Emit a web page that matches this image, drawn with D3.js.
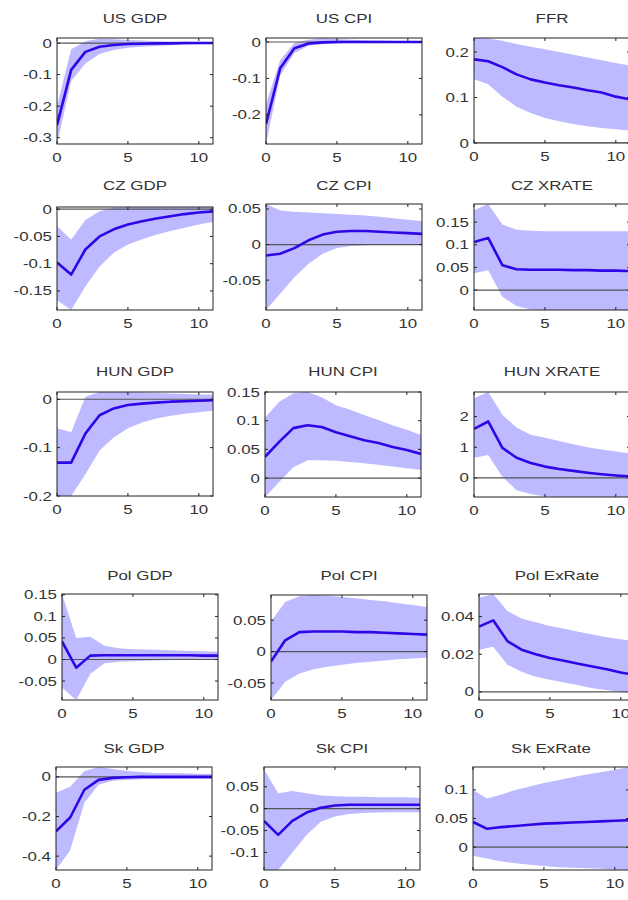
<!DOCTYPE html>
<html><head><meta charset="utf-8">
<script src="https://cdn.jsdelivr.net/npm/d3@7"></script>
<style>body{margin:0;background:#fff}</style>
</head><body>
<script>
// ---------- DATA ----------
const horizon = [0,1,2,3,4,5,6,7,8,9,10,11];
const titles = ["US GDP","US CPI","FFR","CZ GDP","CZ CPI","CZ XRATE","HUN GDP","HUN CPI","HUN XRATE","Pol GDP","Pol CPI","Pol ExRate","Sk GDP","Sk CPI","Sk ExRate"];
const xTicks = [0,5,10];

const usGdpMid = [-0.26,-0.085,-0.028,-0.012,-0.006,-0.003,-0.002,-0.001,-0.001,0,0,0];
const usGdpHi  = [-0.2,-0.02,0.006,0.014,0.012,0.01,0.008,0.006,0.005,0.004,0.003,0.002];
const usGdpLo  = [-0.32,-0.12,-0.065,-0.035,-0.022,-0.015,-0.012,-0.009,-0.007,-0.005,-0.004,-0.003];

const usCpiMid = [-0.225,-0.072,-0.017,-0.004,-0.001,0,0,0,0,0,0,0];
const usCpiHi  = [-0.17,-0.05,-0.003,0.006,0.01,0.008,0.006,0.005,0.004,0.003,0.003,0.002];
const usCpiLo  = [-0.28,-0.092,-0.03,-0.01,-0.006,-0.004,-0.003,-0.002,-0.002,-0.001,-0.001,-0.001];

const ffrMid = [0.184,0.18,0.167,0.151,0.14,0.133,0.127,0.122,0.116,0.111,0.102,0.096];
const ffrHi  = [0.232,0.23,0.225,0.218,0.212,0.206,0.2,0.194,0.188,0.182,0.176,0.17];
const ffrLo  = [0.14,0.129,0.102,0.08,0.066,0.055,0.048,0.042,0.037,0.033,0.03,0.027];

const czGdpMid = [-0.098,-0.12,-0.074,-0.05,-0.037,-0.028,-0.022,-0.017,-0.013,-0.009,-0.006,-0.004];
const czGdpHi  = [-0.031,-0.056,-0.02,-0.004,0.003,0.004,0.004,0.004,0.004,0.004,0.004,0.004];
const czGdpLo  = [-0.167,-0.185,-0.142,-0.105,-0.08,-0.065,-0.055,-0.047,-0.04,-0.034,-0.028,-0.023];

const czCpiMid = [-0.0155,-0.013,-0.005,0.006,0.014,0.018,0.019,0.019,0.018,0.017,0.016,0.015];
const czCpiHi  = [0.057,0.048,0.046,0.045,0.044,0.043,0.042,0.041,0.039,0.037,0.035,0.033];
const czCpiLo  = [-0.092,-0.069,-0.046,-0.027,-0.013,-0.005,-0.002,-0.001,0,0,0,0];

const czXrMid = [0.106,0.115,0.055,0.046,0.045,0.045,0.045,0.044,0.044,0.043,0.043,0.042];
const czXrHi  = [0.176,0.19,0.145,0.133,0.131,0.13,0.13,0.13,0.13,0.13,0.13,0.13];
const czXrLo  = [0.037,0.044,-0.015,-0.035,-0.043,-0.044,-0.044,-0.044,-0.044,-0.044,-0.044,-0.044];

const huGdpMid = [-0.131,-0.131,-0.071,-0.033,-0.019,-0.012,-0.009,-0.007,-0.005,-0.004,-0.003,-0.002];
const huGdpHi  = [-0.06,-0.068,0.005,0.015,0.015,0.015,0.014,0.013,0.012,0.011,0.01,0.01];
const huGdpLo  = [-0.2,-0.2,-0.155,-0.106,-0.079,-0.06,-0.048,-0.04,-0.034,-0.03,-0.027,-0.024];

const huCpiMid = [0.037,0.063,0.087,0.092,0.089,0.08,0.073,0.066,0.061,0.054,0.049,0.042];
const huCpiHi  = [0.105,0.133,0.148,0.15,0.141,0.127,0.119,0.11,0.101,0.092,0.084,0.075];
const huCpiLo  = [-0.033,-0.007,0.019,0.031,0.031,0.03,0.028,0.026,0.023,0.02,0.017,0.014];

const huXrMid = [1.6,1.84,0.98,0.66,0.49,0.37,0.29,0.23,0.17,0.12,0.08,0.05];
const huXrHi  = [2.6,2.8,2.06,1.64,1.41,1.31,1.2,1.1,1.0,0.93,0.86,0.8];
const huXrLo  = [0.66,0.75,0.04,-0.4,-0.52,-0.6,-0.62,-0.62,-0.62,-0.62,-0.62,-0.62];

const plGdpMid = [0.042,-0.019,0.009,0.01,0.01,0.01,0.01,0.01,0.01,0.01,0.009,0.009];
const plGdpHi  = [0.152,0.05,0.053,0.032,0.026,0.024,0.023,0.022,0.021,0.02,0.019,0.018];
const plGdpLo  = [-0.065,-0.094,-0.033,-0.009,-0.005,-0.004,-0.003,-0.002,-0.001,0,0,0];

const plCpiMid = [-0.016,0.018,0.031,0.032,0.032,0.032,0.031,0.031,0.03,0.029,0.028,0.027];
const plCpiHi  = [0.048,0.079,0.088,0.09,0.089,0.087,0.085,0.082,0.08,0.077,0.074,0.071];
const plCpiLo  = [-0.077,-0.048,-0.035,-0.028,-0.024,-0.021,-0.018,-0.016,-0.014,-0.012,-0.011,-0.01];

const plXrMid = [0.0347,0.038,0.027,0.0224,0.02,0.018,0.0165,0.015,0.0135,0.012,0.0103,0.009];
const plXrHi  = [0.05,0.052,0.043,0.039,0.037,0.035,0.0335,0.032,0.0305,0.029,0.028,0.027];
const plXrLo  = [0.0224,0.024,0.0144,0.0107,0.008,0.0064,0.005,0.0035,0.002,0.001,0,-0.001];

const skGdpMid = [-0.275,-0.205,-0.065,-0.015,-0.005,-0.002,0,0,0,0,0,0];
const skGdpHi  = [-0.08,-0.05,0.03,0.05,0.04,0.03,0.025,0.02,0.02,0.018,0.016,0.015];
const skGdpLo  = [-0.47,-0.37,-0.13,-0.04,-0.02,-0.015,-0.012,-0.01,-0.01,-0.01,-0.01,-0.01];

const skCpiMid = [-0.028,-0.06,-0.028,-0.009,0.002,0.007,0.009,0.009,0.009,0.009,0.009,0.009];
const skCpiHi  = [0.09,0.035,0.04,0.035,0.03,0.028,0.027,0.027,0.026,0.026,0.026,0.025];
const skCpiLo  = [-0.14,-0.14,-0.1,-0.06,-0.03,-0.018,-0.012,-0.01,-0.009,-0.008,-0.008,-0.008];

const skXrMid = [0.044,0.032,0.035,0.037,0.039,0.041,0.042,0.043,0.044,0.045,0.046,0.047];
const skXrHi  = [0.1,0.085,0.092,0.1,0.106,0.112,0.117,0.122,0.127,0.131,0.135,0.14];
const skXrLo  = [-0.015,-0.02,-0.025,-0.028,-0.031,-0.033,-0.035,-0.036,-0.037,-0.038,-0.039,-0.04];

const mids = [usGdpMid,usCpiMid,ffrMid,czGdpMid,czCpiMid,czXrMid,huGdpMid,huCpiMid,huXrMid,plGdpMid,plCpiMid,plXrMid,skGdpMid,skCpiMid,skXrMid];
const his  = [usGdpHi,usCpiHi,ffrHi,czGdpHi,czCpiHi,czXrHi,huGdpHi,huCpiHi,huXrHi,plGdpHi,plCpiHi,plXrHi,skGdpHi,skCpiHi,skXrHi];
const los  = [usGdpLo,usCpiLo,ffrLo,czGdpLo,czCpiLo,czXrLo,huGdpLo,huCpiLo,huXrLo,plGdpLo,plCpiLo,plXrLo,skGdpLo,skCpiLo,skXrLo];

const yLimits = [[-0.32,0.016],[-0.28,0.011],[0,0.231],[-0.185,0.004],[-0.092,0.057],[-0.044,0.19],[-0.2,0.015],[-0.033,0.15],[-0.62,2.8],[-0.094,0.152],[-0.077,0.09],[-0.0043,0.052],[-0.47,0.05],[-0.14,0.095],[-0.04,0.14]];
const yTicks = [[0,-0.1,-0.2,-0.3],[0,-0.1,-0.2],[0,0.1,0.2],[0,-0.05,-0.1,-0.15],[0.05,0,-0.05],[0.15,0.1,0.05,0],[0,-0.1,-0.2],[0.15,0.1,0.05,0],[2,1,0],[0.15,0.1,0.05,0,-0.05],[0.05,0,-0.05],[0.04,0.02,0],[0,-0.2,-0.4],[0.05,0,-0.05,-0.1],[0.1,0.05,0]];

// ---------- LAYOUT ----------
const boxLeft = [57,266,474, 57,266,474, 57,265,474, 62,271,479, 56,264,473];
const boxTop  = [38,38,38, 207,204,204, 392,392,392, 594,595,594, 767,767,767];
const boxBot  = [144,144,143, 310,310,310, 496,497,497, 700,700,700, 870,870,870];
const titleY  = [23,23,23, 190,190,190, 376,376,376, 580,580,580, 753,753,753];
const BOXW = 156;
const SX = 1.3;

const svg = d3.select("body").append("svg").attr("width",628).attr("height",900)
  .style("font-family","'Liberation Sans', Arial, sans-serif");
svg.append("rect").attr("width",628).attr("height",900).attr("fill","#fff");

function txt(g, x, y, s, anchor, size){
  g.append("text").attr("transform",`translate(${x},${y}) scale(${SX},1)`)
   .attr("text-anchor",anchor).attr("font-size",size).attr("fill","#333").text(s);
}

titles.forEach((t,i)=>{
  const L = boxLeft[i], T = boxTop[i], B = boxBot[i], R = L + BOXW;
  const x = d3.scaleLinear().domain([0,11]).range([L,R]);
  const y = d3.scaleLinear().domain(yLimits[i]).range([B,T]);
  const g = svg.append("g");
  const cid = "clip"+i;
  g.append("clipPath").attr("id",cid).append("rect").attr("x",L).attr("y",T).attr("width",BOXW).attr("height",B-T);
  const pg = g.append("g").attr("clip-path",`url(#${cid})`);
  const area = d3.area().x((d,j)=>x(horizon[j])).y0((d,j)=>y(los[i][j])).y1((d,j)=>y(his[i][j]));
  pg.append("path").datum(mids[i]).attr("d",area).attr("fill","#bebaff");
  // zero line
  pg.append("line").attr("x1",L).attr("x2",R).attr("y1",y(0)).attr("y2",y(0))
    .attr("stroke","#555").attr("stroke-width",1.2);
  const line = d3.line().x((d,j)=>x(horizon[j])).y(d=>y(d));
  pg.append("path").datum(mids[i]).attr("d",line).attr("fill","none")
    .attr("stroke","#2f06e6").attr("stroke-width",2.6).attr("stroke-linejoin","round");
  // box
  g.append("rect").attr("x",L).attr("y",T).attr("width",BOXW).attr("height",B-T)
    .attr("fill","none").attr("stroke","#222").attr("stroke-width",1);
  // ticks
  xTicks.forEach(v=>{
    g.append("line").attr("x1",x(v)).attr("x2",x(v)).attr("y1",B).attr("y2",B-3).attr("stroke","#222");
    g.append("line").attr("x1",x(v)).attr("x2",x(v)).attr("y1",T).attr("y2",T+3).attr("stroke","#222");
    txt(g, x(v), B+18, String(v), "middle", 13);
  });
  yTicks[i].forEach(v=>{
    g.append("line").attr("x1",L).attr("x2",L+3).attr("y1",y(v)).attr("y2",y(v)).attr("stroke","#222");
    g.append("line").attr("x1",R).attr("x2",R-3).attr("y1",y(v)).attr("y2",y(v)).attr("stroke","#222");
    txt(g, L-5, y(v)+4.5, String(v), "end", 13);
  });
  txt(g, L+BOXW/2, titleY[i], t, "middle", 13);
});
</script>
</body></html>
